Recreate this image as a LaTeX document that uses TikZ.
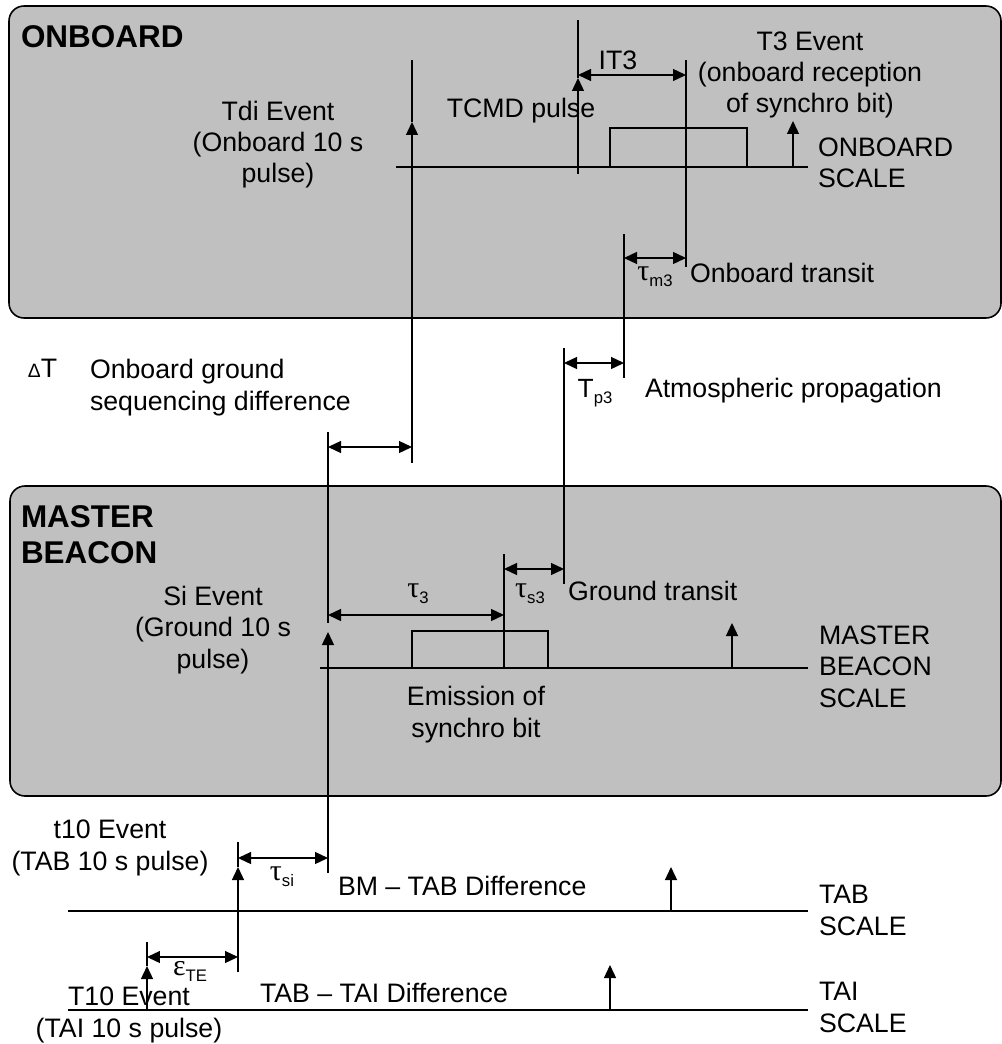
\documentclass[tikz,border=0pt]{standalone}
\usepackage{fontspec}
\setmainfont{Liberation Sans}
\newfontfamily\grk{Liberation Serif}
\usetikzlibrary{arrows.meta}
\definecolor{boxgray}{RGB}{192,192,192}
\newcommand\mysub[1]{\raisebox{-0.45ex}{\fontsize{9.5}{10}\selectfont\rmfamily #1}}
\begin{document}
\begin{tikzpicture}[x=0.02cm,y=-0.02cm,
  every node/.style={inner sep=0pt, outer sep=0pt, font=\fontsize{15.2}{17.9}\selectfont},
  panel/.style={draw=black, line width=0.9pt, fill=boxgray, rounded corners=0.3cm},
  title/.style={font=\fontsize{17.9}{20.4}\selectfont\bfseries, align=left, anchor=base west},
  ln/.style={line width=0.75pt},
  tip/.style={ln, -{Triangle[length=0.26cm,width=0.24cm]}},
  dim/.style={ln, {Triangle[length=0.26cm,width=0.24cm]}-{Triangle[length=0.26cm,width=0.24cm]}},
  lbl/.style={anchor=base, align=center},
  lbll/.style={anchor=base west, align=left},
  sym/.style={anchor=base, font=\fontsize{17}{19}\grk},
]
\useasboundingbox (0,0) rectangle (1001,1044);

% panels
\path[panel] (9,6) rectangle (1001,318);
\path[panel] (10,486) rectangle (1001,796);

% ---------- coordinates ----------
% onboard
\coordinate (obL) at (396,167);  \coordinate (obR) at (808,167);
\coordinate (tdiB) at (412,463); \coordinate (tdiM) at (412,122); \coordinate (tdiT) at (412,60);
\coordinate (tcB) at (578,174);  \coordinate (tcM) at (578,78);   \coordinate (tcT) at (578,20);
\coordinate (pb1) at (610,167);  \coordinate (pb2) at (610,128);  \coordinate (pb3) at (747,128); \coordinate (pb4) at (747,167);
\coordinate (t3T) at (686,60);   \coordinate (t3B) at (686,267);
\coordinate (it3a) at (578,75);  \coordinate (it3b) at (686,75);
\coordinate (oaB) at (793,167);  \coordinate (oaT) at (793,121);
\coordinate (tmT) at (624,234);  \coordinate (tmB) at (624,378);
\coordinate (tma) at (624,258);  \coordinate (tmb) at (686,258);
% between
\coordinate (tpT) at (564,348);  \coordinate (tpB) at (564,584);
\coordinate (tpa) at (564,363);  \coordinate (tpb) at (624,363);
\coordinate (dtT) at (328,432);  \coordinate (dtU) at (328,623);
\coordinate (dtB) at (328,873);  \coordinate (dtM) at (328,632);
\coordinate (dta) at (328,447);  \coordinate (dtb) at (412,447);
% master
\coordinate (msL) at (320,668);  \coordinate (msR) at (808,668);
\coordinate (mb1) at (412,668);  \coordinate (mb2) at (412,631);  \coordinate (mb3) at (548,631); \coordinate (mb4) at (548,668);
\coordinate (emT) at (504,554);  \coordinate (emB) at (504,668);
\coordinate (t3a) at (328,615);  \coordinate (t3b) at (504,615);
\coordinate (tsa) at (504,569);  \coordinate (tsb) at (564,569);
\coordinate (maB) at (732,668);  \coordinate (maT) at (732,623);
% bottom
\coordinate (t10T) at (238,842); \coordinate (t10M) at (238,867); \coordinate (t10B) at (238,972);
\coordinate (sia) at (238,858);  \coordinate (sib) at (328,858);
\coordinate (tabL) at (68,911);  \coordinate (tabR) at (808,911);
\coordinate (taB) at (671,911);  \coordinate (taT) at (671,867);
\coordinate (T10T) at (147,942); \coordinate (T10M) at (147,966); \coordinate (T10B) at (147,1010);
\coordinate (eta) at (147,957);  \coordinate (etb) at (238,957);
\coordinate (taiL) at (68,1010); \coordinate (taiR) at (808,1010);
\coordinate (tiB) at (610,1010); \coordinate (tiT) at (610,965);

% ---------- lines ----------
\draw[ln] (obL) -- (obR);
\draw[tip] (tdiB) -- (tdiM); \draw[ln] (tdiM) -- (tdiT);
\draw[tip] (tcB) -- (tcM);   \draw[ln] (tcM) -- (tcT);
\draw[ln] (pb1) -- (pb2) -- (pb3) -- (pb4);
\draw[ln] (t3T) -- (t3B);
\draw[dim] (it3a) -- (it3b);
\draw[tip] (oaB) -- (oaT);
\draw[ln] (tmT) -- (tmB);
\draw[dim] (tma) -- (tmb);

\draw[ln] (tpT) -- (tpB);
\draw[dim] (tpa) -- (tpb);
\draw[ln] (dtT) -- (dtU);
\draw[tip] (dtB) -- (dtM);
\draw[dim] (dta) -- (dtb);

\draw[ln] (msL) -- (msR);
\draw[ln] (mb1) -- (mb2) -- (mb3) -- (mb4);
\draw[ln] (emT) -- (emB);
\draw[dim] (t3a) -- (t3b);
\draw[dim] (tsa) -- (tsb);
\draw[tip] (maB) -- (maT);

\draw[tip] (t10B) -- (t10M); \draw[ln] (t10M) -- (t10T);
\draw[dim] (sia) -- (sib);
\draw[ln] (tabL) -- (tabR);
\draw[tip] (taB) -- (taT);
\draw[tip] (T10B) -- (T10M); \draw[ln] (T10M) -- (T10T);
\draw[dim] (eta) -- (etb);
\draw[ln] (taiL) -- (taiR);
\draw[tip] (tiB) -- (tiT);

% ---------- texts (base = baseline of last line) ----------
\node[title] (onb) at (21,48) {ONBOARD};
\node[title] (mst) at (21,563) {MASTER\\BEACON};

\node[lbl] (tdi) at (278,183) {Tdi Event\\(Onboard 10 s\\pulse)};
\node[lbl] (tcmd) at (521,118) {TCMD pulse};
\node[lbl] (it3) at (618,70) {IT3};
\node[lbl] (t3ev) at (810,113) {T3 Event\\(onboard reception\\of synchro bit)};
\node[lbll] (obs) at (818,188) {ONBOARD\\SCALE};
\node[sym] (taum3) at (655,280) {τ\mysub{m3}};
\node[lbll] (obt) at (690,282) {Onboard transit};

\node[anchor=base west] (dT) at (28,377) {{\fontsize{11}{13}\selectfont Δ}T};
\node[lbll] (obg) at (90,410) {Onboard ground\\sequencing difference};
\node[anchor=base, font=\fontsize{15}{17}\selectfont] (tp3) at (595,397) {T\mysub{p3}};
\node[lbll] (atm) at (645,397) {Atmospheric propagation};

\node[lbl] (si) at (213,668) {Si Event\\(Ground 10 s\\pulse)};
\node[sym] (tau3) at (418,597) {τ\mysub{3}};
\node[sym] (taus3) at (530,597) {τ\mysub{s3}};
\node[lbll] (gt) at (568,600) {Ground transit};
\node[lbll] (mbs) at (819,707) {MASTER\\BEACON\\SCALE};
\node[lbl] (emis) at (476,737) {Emission of\\synchro bit};

\node[lbl] (t10) at (110,870) {t10 Event\\(TAB 10 s pulse)};
\node[sym] (tausi) at (282,880) {τ\mysub{si}};
\node[lbll] (bmtab) at (338,895) {BM – TAB Difference};
\node[lbll] (tabs) at (819,935) {TAB\\SCALE};
\node[sym] (epste) at (190,975) {ε\mysub{TE}};
\node[lbll] (tabtai) at (260,1002) {TAB – TAI Difference};
\node[lbl] (T10) at (129,1037) {T10 Event\\(TAI 10 s pulse)};
\node[lbll] (tais) at (819,1032) {TAI\\SCALE};
\end{tikzpicture}
\end{document}
